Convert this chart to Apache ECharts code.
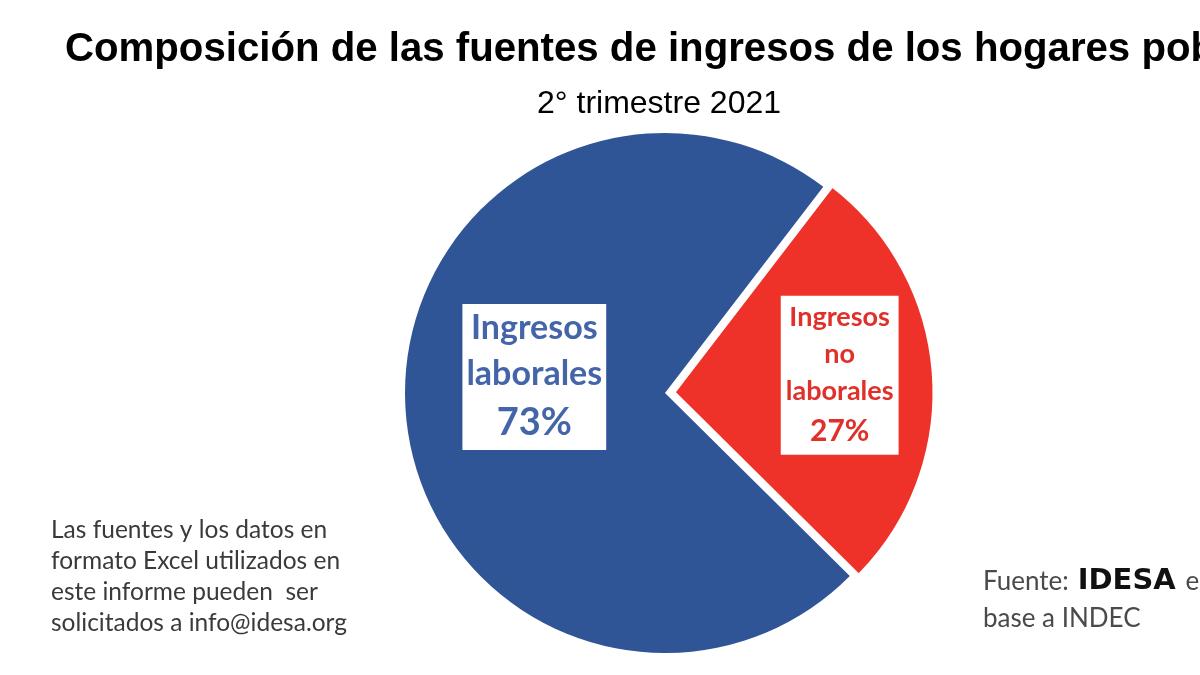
<!DOCTYPE html>
<html>
<head>
<meta charset="utf-8">
<script src="https://cdn.jsdelivr.net/npm/echarts@6/dist/echarts.min.js"></script>
<style>html,body{margin:0;padding:0;background:#fff}#c{width:1200px;height:675px}</style>
</head>
<body>
<div id="c"></div>
<script>
var categories = ['Ingresos laborales', 'Ingresos no laborales'];
var labelLines = [['Ingresos', 'laborales'], ['Ingresos', 'no', 'laborales']];
var values = [73, 27];
var colors = ['#2F5597', '#EE3129'];
var textColors = ['#4466A8', '#E0302A'];
var titleText = 'Composición de las fuentes de ingresos de los hogares pobres';
var subtitleText = '2° trimestre 2021';
var noteLines = ['Las fuentes y los datos en', 'formato Excel utilizados en', 'este informe pueden  ser', 'solicitados a info@idesa.org'];

var total = values.reduce(function (a, b) { return a + b; }, 0);
// upper edge of the red slice sits at about 52.5° (counter-clockwise from 3 o'clock)
var redUpperEdge = 52.5;
var startAngle = redUpperEdge + 360 * (values[0] / total) - 360;

var chart = echarts.init(document.getElementById('c'));
var option = {
  backgroundColor: '#fff',
  animation: false,
  title: [
    { text: titleText, left: 60, top: 25,
      textStyle: { fontFamily: 'Liberation Sans', fontWeight: 'bold', fontSize: 40.2, color: '#000' } },
    { text: subtitleText, left: 532, top: 83,
      textStyle: { fontFamily: 'Liberation Sans', fontWeight: 'normal', fontSize: 32, color: '#000' } },
    { text: noteLines.join('\n'), left: 46, top: 510,
      textStyle: { fontFamily: 'Lato', fontWeight: 'normal', fontSize: 24.5, lineHeight: 31, color: '#3a3a3a' } },
    { text: '{a|Fuente:}{b|IDESA}{a| en}\n{a|base a INDEC}', left: 978, top: 558,
      textStyle: { rich: {
        a: { fontFamily: 'Lato', fontWeight: 'normal', fontSize: 26, color: '#4a4a4a', lineHeight: 37 },
        b: { fontFamily: 'DejaVu Sans', fontWeight: 'bold', fontSize: 29, color: '#111', lineHeight: 37, padding: [0, 3, 0, 9] }
      } } }
  ],
  series: [{
    type: 'pie',
    center: [665, 393],
    radius: 260,
    startAngle: startAngle,
    clockwise: true,
    selectedMode: 'single',
    selectedOffset: 9,
    silent: true,
    label: {
      show: true,
      position: 'inside',
      backgroundColor: '#fff',
      formatter: function (p) {
        var lines = labelLines[p.dataIndex];
        var s = p.dataIndex === 0 ? 'n' : 'm';
        var t = p.dataIndex === 0 ? 'p' : 'q';
        return lines.map(function (l) { return '{' + s + '|' + l + '}'; }).join('\n') + '\n{' + t + '|' + p.value + '%}';
      },
      rich: {
        n: { fontFamily: 'Lato', fontWeight: 'bold', fontSize: 34, lineHeight: 46, color: textColors[0], align: 'center' },
        p: { fontFamily: 'Lato', fontWeight: 'bold', fontSize: 38, lineHeight: 52, color: textColors[0], align: 'center' },
        m: { fontFamily: 'Lato', fontWeight: 'bold', fontSize: 27, lineHeight: 37, color: textColors[1], align: 'center' },
        q: { fontFamily: 'Lato', fontWeight: 'bold', fontSize: 30, lineHeight: 42, color: textColors[1], align: 'center' }
      }
    },
    labelLine: { show: false },
    labelLayout: function (params) {
      return params.dataIndex === 0 ? { dx: 2, dy: -25 } : { dx: 33, dy: -8 };
    },
    data: categories.map(function (c, i) {
      return {
        name: c, value: values[i], selected: i === 1,
        itemStyle: { color: colors[i], borderColor: '#fff', borderWidth: i === 1 ? 3 : 0 },
        label: i === 0 ? { padding: [1, 4, 1, 4] } : { padding: [3, 5, 3, 5] }
      };
    })
  }]
};
chart.setOption(option);
</script>
</body>
</html>
